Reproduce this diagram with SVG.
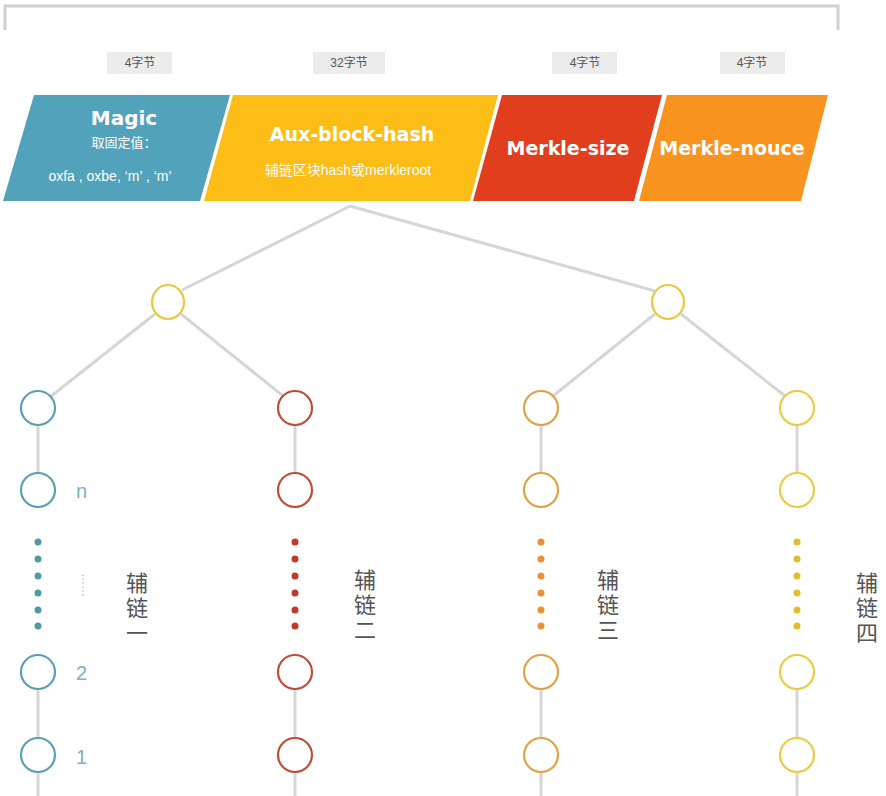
<svg xmlns="http://www.w3.org/2000/svg" width="886" height="796" viewBox="0 0 886 796">
<style>
.lbl{fill:#ececec}
.lt{font-family:"Liberation Sans","Noto Sans CJK SC",sans-serif;font-size:12px;fill:#555;text-anchor:middle}
.ht{font-family:"DejaVu Sans","Noto Sans CJK SC",sans-serif;font-weight:bold;fill:#fff;text-anchor:middle}
.st{font-family:"Liberation Sans","Noto Sans CJK SC",sans-serif;fill:#fff;text-anchor:middle}
.ln{stroke:#d6d6d6;stroke-width:3;fill:none}
.c{fill:#fff;stroke-width:2.2}
.vt{font-family:"Noto Sans CJK SC",sans-serif;font-size:22px;fill:#555;writing-mode:vertical-rl;letter-spacing:3px}
.num{font-family:"Liberation Sans",sans-serif;font-size:20px;fill:#7ab3c2}
</style>
<g id="bracket"><path d="M5 30 V6 H838 V30" fill="none" stroke="#d0d0d0" stroke-width="3"/></g>
<g id="sizes">
<rect class="lbl" x="107" y="52" width="65" height="22"/><text class="lt" x="140" y="67">4字节</text>
<rect class="lbl" x="313" y="52" width="72" height="22"/><text class="lt" x="349" y="67">32字节</text>
<rect class="lbl" x="552" y="52" width="65" height="22"/><text class="lt" x="585" y="67">4字节</text>
<rect class="lbl" x="720" y="52" width="65" height="22"/><text class="lt" x="752" y="67">4字节</text>
</g>
<g id="magic">
<polygon points="34,95 230,95 200,201 3,201" fill="#53a2bb"/>
<text class="ht" x="124" y="125" font-size="20">Magic</text>
<text class="st" x="124" y="147" font-size="13">取固定值：</text>
<text class="st" x="110" y="181" font-size="14">oxfa , oxbe, ‘m’ , ‘m’</text>
</g>
<g id="aux">
<polygon points="233,95 498,95 470,201 204,201" fill="#fbbd16"/>
<text class="ht" x="352" y="141" font-size="19">Aux-block-hash</text>
<text class="st" x="348" y="175" font-size="14">辅链区块hash或merkleroot</text>
</g>
<g id="msize">
<polygon points="502,95 662,95 634,201 473,201" fill="#e03e1c"/>
<text class="ht" x="568" y="155" font-size="19">Merkle-size</text>
</g>
<g id="mnouce">
<polygon points="667,95 828,95 801,201 639,201" fill="#f7931e"/>
<text class="ht" x="732" y="155" font-size="19">Merkle-nouce</text>
</g>
<g id="connectors">
<line class="ln" x1="350" y1="206" x2="182" y2="290"/>
<line class="ln" x1="350" y1="206" x2="655" y2="291"/>
<line class="ln" x1="155" y1="314" x2="50" y2="397"/>
<line class="ln" x1="181" y1="314" x2="283" y2="396"/>
<line class="ln" x1="655" y1="314" x2="553" y2="396"/>
<line class="ln" x1="681" y1="314" x2="785" y2="396"/>
<line class="ln" x1="38" y1="426" x2="38" y2="473"/>
<line class="ln" x1="38" y1="690" x2="38" y2="738"/>
<line class="ln" x1="38" y1="773" x2="38" y2="796"/>
<line class="ln" x1="295" y1="426" x2="295" y2="473"/>
<line class="ln" x1="295" y1="690" x2="295" y2="738"/>
<line class="ln" x1="295" y1="773" x2="295" y2="796"/>
<line class="ln" x1="541" y1="426" x2="541" y2="473"/>
<line class="ln" x1="541" y1="690" x2="541" y2="738"/>
<line class="ln" x1="541" y1="773" x2="541" y2="796"/>
<line class="ln" x1="797" y1="426" x2="797" y2="473"/>
<line class="ln" x1="797" y1="690" x2="797" y2="738"/>
<line class="ln" x1="797" y1="773" x2="797" y2="796"/>
</g>
<g id="mid-left"><ellipse class="c" cx="168" cy="302" rx="16" ry="17" stroke="#e9c93c"/></g>
<g id="mid-right"><ellipse class="c" cx="668" cy="302" rx="16" ry="17" stroke="#e9c93c"/></g>
<g id="chain1" stroke="#5d9fb3">
<circle class="c" cx="38" cy="408" r="17"/>
<circle class="c" cx="38" cy="490" r="17"/>
<circle class="c" cx="38" cy="672" r="17"/>
<circle class="c" cx="38" cy="755" r="17"/>
<g fill="#4f9aa6" stroke="none"><circle cx="38" cy="542" r="3.5"/><circle cx="38" cy="559" r="3.5"/><circle cx="38" cy="576" r="3.5"/><circle cx="38" cy="593" r="3.5"/><circle cx="38" cy="610" r="3.5"/><circle cx="38" cy="626" r="3.5"/></g>
<text class="num" x="76" y="498" stroke="none">n</text>
<text class="num" x="76" y="680" stroke="none">2</text>
<text class="num" x="76" y="764" stroke="none">1</text>
<text x="78" y="589" transform="rotate(90 82 589)" font-family="Liberation Sans,sans-serif" font-size="12" fill="#7ab3c2" stroke="none" text-anchor="middle">……</text>
<text class="vt" x="137" y="572" stroke="none">辅链一</text>
</g>
<g id="chain2" stroke="#bd4e3a">
<circle class="c" cx="295" cy="408" r="17"/>
<circle class="c" cx="295" cy="490" r="17"/>
<circle class="c" cx="295" cy="672" r="17"/>
<circle class="c" cx="295" cy="755" r="17"/>
<g fill="#c0392b" stroke="none"><circle cx="295" cy="542" r="3.5"/><circle cx="295" cy="559" r="3.5"/><circle cx="295" cy="576" r="3.5"/><circle cx="295" cy="593" r="3.5"/><circle cx="295" cy="610" r="3.5"/><circle cx="295" cy="626" r="3.5"/></g>
<text class="vt" x="365" y="569" stroke="none">辅链二</text>
</g>
<g id="chain3" stroke="#e0a243">
<circle class="c" cx="541" cy="408" r="17"/>
<circle class="c" cx="541" cy="490" r="17"/>
<circle class="c" cx="541" cy="672" r="17"/>
<circle class="c" cx="541" cy="755" r="17"/>
<g fill="#e8913a" stroke="none"><circle cx="541" cy="542" r="3.5"/><circle cx="541" cy="559" r="3.5"/><circle cx="541" cy="576" r="3.5"/><circle cx="541" cy="593" r="3.5"/><circle cx="541" cy="610" r="3.5"/><circle cx="541" cy="626" r="3.5"/></g>
<text class="vt" x="608" y="569" stroke="none">辅链三</text>
</g>
<g id="chain4" stroke="#e8cc42">
<circle class="c" cx="797" cy="408" r="17"/>
<circle class="c" cx="797" cy="490" r="17"/>
<circle class="c" cx="797" cy="672" r="17"/>
<circle class="c" cx="797" cy="755" r="17"/>
<g fill="#dfbe30" stroke="none"><circle cx="797" cy="542" r="3.5"/><circle cx="797" cy="559" r="3.5"/><circle cx="797" cy="576" r="3.5"/><circle cx="797" cy="593" r="3.5"/><circle cx="797" cy="610" r="3.5"/><circle cx="797" cy="626" r="3.5"/></g>
<text class="vt" x="867" y="572" stroke="none">辅链四</text>
</g>
</svg>
